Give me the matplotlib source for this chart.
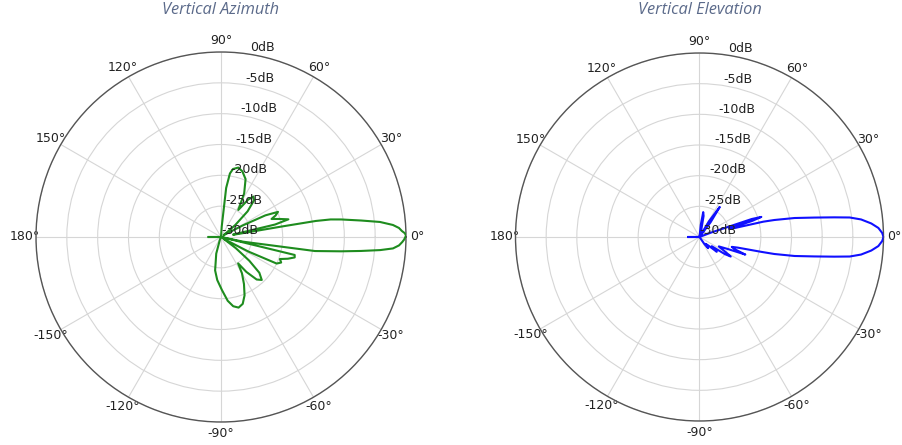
import numpy as np
import matplotlib
matplotlib.use("Agg")
import matplotlib.pyplot as plt

# ---- data ----
titles = ["Vertical Azimuth", "Vertical Elevation"]
angle_ticks = [0, 30, 60, 90, 120, 150, 180, 210, 240, 270, 300, 330]
angle_labels = ["0°", "30°", "60°", "90°", "120°", "150°", "180°",
                "-150°", "-120°", "-90°", "-60°", "-30°"]
db_ticks = [-30, -25, -20, -15, -10, -5, 0]
db_labels = ["-30dB", "-25dB", "-20dB", "-15dB", "-10dB", "-5dB", "0dB"]

az_angle = [-180, -175, -120, -112, -106, -100, -95, -89, -84, -80, -76, -72, -68,
            -64, -60, -57, -54, -50, -46.5, -43, -40, -37, -34, -31, -28, -25.5,
            -23, -20.5, -18, -15.5, -13.7, -12.6, -11.9, -8.5, -6.8, -5.7, -4.7,
            -3.8, -2.7, -1.6, -0.8, 0, 0.5, 1.2, 1.9, 2.9, 4.0, 5.4, 6.7, 8.3, 9.1,
            9.6, 9.8, 10.2, 11.5, 13, 14.7, 17, 19.6, 21.5, 23.8, 26, 28, 31, 35,
            40, 44, 48, 51.3, 54, 57.4, 62, 67, 72, 76, 80, 82, 84, 86, 88, 120,
            175, 180]
az_db = [-28, -30, -30, -29.5, -27.2, -24.5, -23, -21.4, -19.6, -18.6, -18.2, -18.6, -19.8,
         -21.5, -23.2, -24.9, -23, -21, -20.4, -21.5, -24, -27, -29.5, -29, -25, -20,
         -19.4, -19.8, -18.6, -17.6, -17.7, -30, -26.3, -14.6, -10.4, -7.2, -4.1,
         -2.05, -1.1, -0.6, -0.3, -0.1, 0, -0.2, -0.65, -1.1, -2.05, -4.1, -7.1, -10.3, -12.0,
         -14.4, -20, -28, -28, -21, -18.7, -20, -21.3, -20.5, -19.9, -22, -26, -29, -29.5,
         -27, -24, -22, -21.6, -22.5, -24.8, -22, -19.8, -18.8, -18.4, -18.8, -19.6, -22,
         -28.3, -30, -30, -30, -28]

el_angle = [-180, -176, -60, -55, -52, -48, -44, -40.5, -37, -34, -32, -29, -26, -23,
            -21, -19, -17, -15.5, -13.5, -12.8, -11.3, -9.6, -8.3, -7.4, -6.2, -4.5,
            -2.9, -1.25, 0, 1.25, 2.9, 4.5, 6.2, 7.4, 8.3, 9.6, 11.3, 12.8, 13.5, 14.4,
            15.5, 17, 18, 19, 21, 25, 50, 53, 56, 59, 65, 75, 79, 81.5, 84, 88, 176, 180]
el_db = [-28.2, -30, -30, -28.5, -27.7, -28.5, -28, -26.3, -27.5, -25, -24, -25.5, -26.5, -25,
         -22, -24, -24.5, -23.5, -19.6, -17.5, -14.2, -11.0, -7.8, -5.3, -3.5, -1.9,
         -0.8, -0.2, 0, -0.2, -0.8, -1.9, -3.5, -5.3, -7.8, -11.0, -14.2, -17.5, -19.3, -24.3,
         -25, -21, -19.4, -21, -28, -30, -30, -27, -24.1, -27, -30, -29, -26.5,
         -25.9, -28, -30, -30, -28.2]

series = [(az_angle, az_db, "#1e8c1e"), (el_angle, el_db, "#1010ff")]

# ---- figure ----
W, H = 903, 445
fig = plt.figure(figsize=(W / 100, H / 100), dpi=100)
boxes = [(221, 237, 185), (699.5, 237, 184)]

for (cx, cy, rad), title, (ang, db, col) in zip(boxes, titles, series):
    ax = fig.add_axes([(cx - rad) / W, (H - cy - rad) / H, 2 * rad / W, 2 * rad / H],
                      projection="polar")
    ax.plot(np.deg2rad(ang), db, color=col, lw=1.5, zorder=3)
    ax.set_ylim(-30, 0)
    ax.set_yticks(db_ticks)
    ax.set_yticklabels([])
    ax.set_thetagrids(angle_ticks, angle_labels, fontsize=9, color="#222222")
    ax.grid(True, color="#d6d6d6", lw=0.8)
    ax.spines["polar"].set_color("#555555")
    ax.spines["polar"].set_linewidth(1.0)
    ax.tick_params(axis="x", pad=-2.5)
    for v, lab in zip(db_ticks, db_labels):
        ax.text(np.deg2rad(81), v, lab, ha="left", va="bottom", fontsize=9,
                color="#222222", zorder=4)
    fig.text(cx / W, 1 - 10 / H, title, ha="center", va="center",
             fontsize=11.8, style="italic", family="Open Sans", color="#5b6a8a")

fig.savefig("out.png", dpi=100)
